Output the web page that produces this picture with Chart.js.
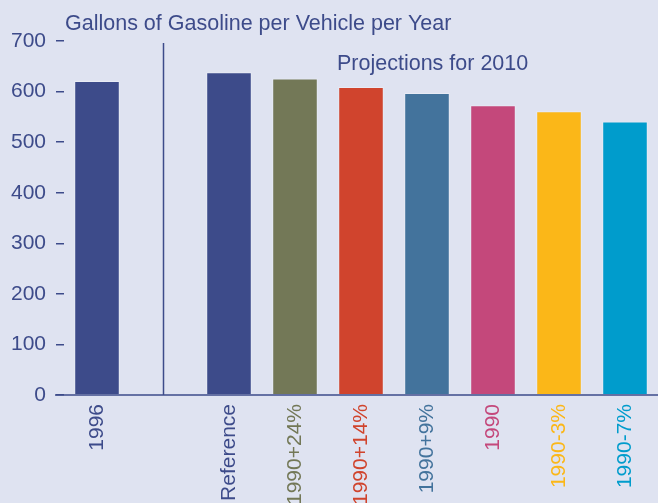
<!DOCTYPE html>
<html lang="en">
<head>
<meta charset="UTF-8">
<title>Gallons of Gasoline per Vehicle per Year</title>
<script src="https://cdn.jsdelivr.net/npm/chart.js"></script>
<style>
  body { margin: 0; padding: 0; background: #dfe3f1; }
  #wrap { width: 658px; height: 503px; position: relative; }
</style>
</head>
<body>
<div id="wrap"><canvas id="gasChart" width="658" height="503"></canvas></div>
<script>
// categories (empty slot is the gap holding the divider line)
const categories = ["1996", "", "Reference", "1990+24%", "1990+14%", "1990+9%", "1990", "1990-3%", "1990-7%"];
const gallons = [621, null, 638, 626, 609, 597, 573, 561, 541];
const barColors = ["#3d4b8a", "#3d4b8a", "#3d4b8a", "#737857", "#d0442d", "#43739c", "#c4487b", "#fbb718", "#009ccc"];
const yTicks = [0, 100, 200, 300, 400, 500, 600, 700];

const textBlue = "#3d4b8a";
const fontFamily = "'Liberation Sans', Arial, sans-serif";

// extra drawing: axis line, divider, title texts
const decorations = {
  id: "decorations",
  afterDraw(chart) {
    const ctx = chart.ctx;
    const x = chart.scales.x;
    const y = chart.scales.y;
    const area = chart.chartArea;
    ctx.save();
    ctx.strokeStyle = textBlue;
    ctx.lineWidth = 1.5;
    // baseline
    ctx.beginPath();
    ctx.moveTo(55, y.getPixelForValue(0));
    ctx.lineTo(chart.width, y.getPixelForValue(0));
    ctx.stroke();
    // divider between actual and projections
    const dx = Math.round(x.getPixelForValue(1)) + 0.5;
    ctx.beginPath();
    ctx.moveTo(dx, area.top + 2);
    ctx.lineTo(dx, y.getPixelForValue(0));
    ctx.stroke();
    // titles
    ctx.fillStyle = textBlue;
    ctx.font = "21.5px " + fontFamily;
    ctx.textBaseline = "alphabetic";
    ctx.textAlign = "left";
    ctx.fillText("Gallons of Gasoline per Vehicle per Year", 65, 30);
    ctx.fillText("Projections for 2010", 337, 70);
    ctx.restore();
  }
};

new Chart(document.getElementById("gasChart"), {
  type: "bar",
  data: {
    labels: categories,
    datasets: [{
      data: gallons,
      backgroundColor: barColors,
      borderColor: "rgba(255,255,255,0.3)",
      borderWidth: 1,
      barPercentage: 0.69,
      categoryPercentage: 1.0
    }]
  },
  options: {
    responsive: false,
    animation: false,
    layout: { padding: { top: 41, right: 0, left: 0, bottom: 0 } },
    plugins: {
      legend: { display: false },
      tooltip: { enabled: false }
    },
    scales: {
      x: {
        grid: { display: false },
        border: { display: false },
        afterFit(scale) { scale.height = 108; },
        ticks: {
          minRotation: 90,
          maxRotation: 90,
          padding: 1,
          autoSkip: false,
          color: barColors,
          font: { size: 21, family: fontFamily }
        }
      },
      y: {
        min: 0,
        max: 700,
        afterFit(scale) { scale.width = 64; },
        afterBuildTicks(scale) { scale.ticks = yTicks.map(v => ({ value: v })); },
        border: { display: false },
        grid: {
          drawOnChartArea: false,
          drawTicks: true,
          tickLength: 8,
          color: textBlue,
          lineWidth: 1.5
        },
        ticks: {
          padding: 10,
          color: textBlue,
          font: { size: 21, family: fontFamily }
        }
      }
    }
  },
  plugins: [decorations]
});
</script>
</body>
</html>
